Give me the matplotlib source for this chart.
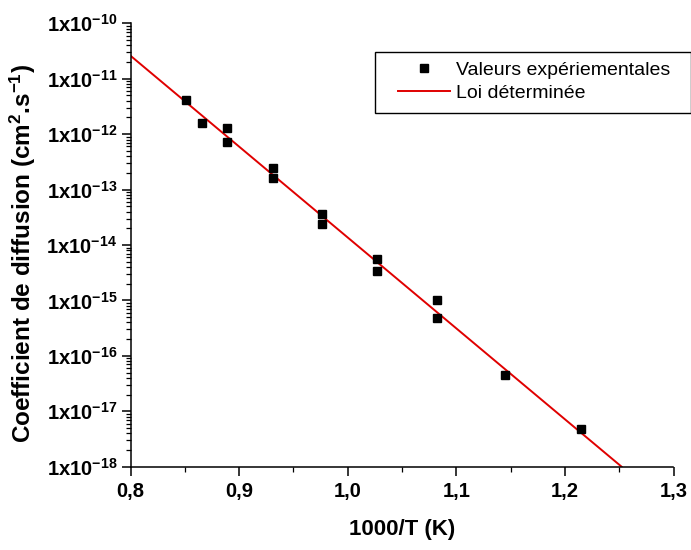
import numpy as np
import matplotlib
matplotlib.use('Agg')
import matplotlib.pyplot as plt
from matplotlib.patches import Rectangle
from matplotlib.ticker import FuncFormatter, LogLocator, NullFormatter, MultipleLocator

plt.rcParams['font.family'] = ['Liberation Sans', 'DejaVu Sans']
plt.rcParams['mathtext.fontset'] = 'custom'
plt.rcParams['mathtext.rm'] = 'Liberation Sans'
plt.rcParams['mathtext.bf'] = 'Liberation Sans:bold'
plt.rcParams['mathtext.default'] = 'bf'

# experimental values (1000/T, D in cm2/s)
inv_t = [0.851, 0.866, 0.889, 0.889, 0.931, 0.931, 0.976, 0.976,
         1.027, 1.027, 1.082, 1.082, 1.1446, 1.2147]
diff_coef = [4.13e-12, 1.61e-12, 1.27e-12, 7.3e-13, 2.42e-13, 1.63e-13,
             3.57e-14, 2.38e-14, 5.5e-15, 3.42e-15, 1.01e-15, 4.85e-16,
             4.49e-17, 4.75e-18]

# fitted law, end points
law_x = [0.8, 1.2522]
law_y = [2.6e-11, 1.0e-18]

W, H = 691, 550
fig = plt.figure(figsize=(W / 100, H / 100), dpi=100)
ax = fig.add_axes([130.5 / W, 1 - 466.7 / H, 543 / W, 443.4 / H])

line, = ax.plot(law_x, law_y, color='#e00000', lw=1.4, zorder=2)
pts, = ax.plot(inv_t, diff_coef, 's', color='black', ms=6.2, ls='none', zorder=3)

ax.set_yscale('log')
ax.set_xlim(0.8, 1.3)
ax.set_ylim(1e-18, 1e-10)

for side in ['top', 'right']:
    ax.spines[side].set_visible(False)
for side in ['left', 'bottom']:
    ax.spines[side].set_linewidth(1.1)

ax.yaxis.set_major_locator(LogLocator(base=10, numticks=20))
ax.yaxis.set_minor_locator(LogLocator(base=10, subs=np.arange(2, 10), numticks=20))
ax.yaxis.set_minor_formatter(NullFormatter())
ax.yaxis.set_major_formatter(FuncFormatter(
    lambda v, p: '1x10$^{%d}$' % int(round(np.log10(v)))))

ax.xaxis.set_major_locator(MultipleLocator(0.1))
ax.xaxis.set_minor_locator(MultipleLocator(0.05))
ax.xaxis.set_major_formatter(FuncFormatter(lambda v, p: ('%.1f' % v).replace('.', ',')))

ax.tick_params(which='major', direction='out', length=6.5, width=1.1, labelsize=14.5)
ax.tick_params(axis='x', which='major', pad=4.5)
ax.tick_params(axis='y', which='major', pad=3)
ax.tick_params(which='minor', direction='out', length=3.6, width=0.9)
for lab in ax.get_xticklabels() + ax.get_yticklabels():
    lab.set_fontweight('bold')

ax.set_xlabel('1000/T (K)', fontsize=16, fontweight='bold', labelpad=13)
ax.set_ylabel('Coefficient de diffusion (cm$^2$.s$^{-1}$)', fontsize=17.5,
              fontweight='bold', labelpad=6)
ax.yaxis.label.set_y(0.48)

# legend with its own frame
leg = fig.legend([pts, line], ['Valeurs expériementales', 'Loi déterminée'],
                 loc='center left', bbox_to_anchor=(397.7 / W, 1 - 81.6 / H),
                 bbox_transform=fig.transFigure, fontsize=14, frameon=False,
                 handlelength=2.7, handletextpad=0.3, borderpad=0,
                 borderaxespad=0, labelspacing=0.3)
fig.patches.append(Rectangle((375 / W, 1 - 112.7 / H), 316 / W, 61 / H,
                             transform=fig.transFigure, fill=False,
                             edgecolor='black', lw=1.0))

fig.savefig('out.png', dpi=100)
